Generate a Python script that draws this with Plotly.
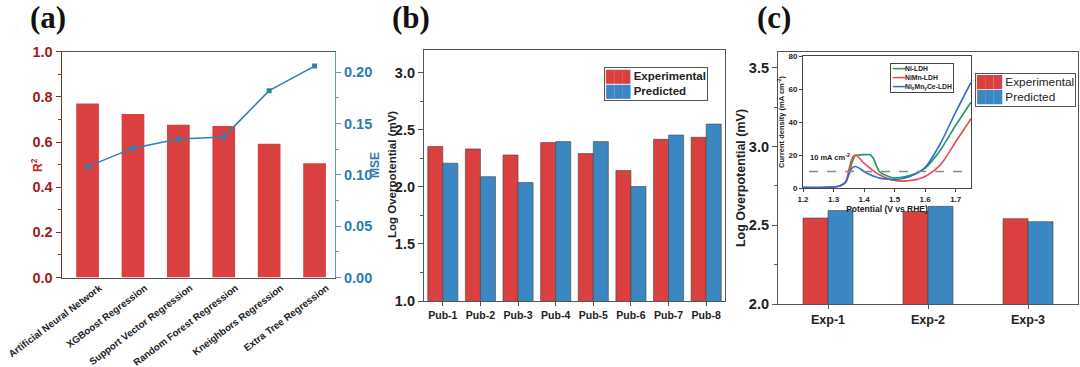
import plotly.graph_objects as go

# ---------------- data ----------------
models = ["Artificial Neural Network", "XGBoost Regression", "Support Vector Regression",
          "Random Forest Regression", "Kneighbors Regression", "Extra Tree Regression"]
r2 = [0.771, 0.724, 0.676, 0.671, 0.592, 0.506]
mse = [0.108, 0.126, 0.135, 0.137, 0.182, 0.206]

pubs = ["Pub-1", "Pub-2", "Pub-3", "Pub-4", "Pub-5", "Pub-6", "Pub-7", "Pub-8"]
pub_exp = [2.354, 2.333, 2.280, 2.389, 2.292, 2.143, 2.417, 2.435]
pub_pred = [2.208, 2.090, 2.038, 2.397, 2.397, 2.003, 2.455, 2.551]

exps = ["Exp-1", "Exp-2", "Exp-3"]
exp_exp = [2.546, 2.587, 2.542]
exp_pred = [2.593, 2.620, 2.523]

potential = [1.20, 1.25, 1.30, 1.32, 1.34, 1.35, 1.36, 1.37, 1.38, 1.40, 1.42, 1.43,
             1.45, 1.48, 1.50, 1.55, 1.60, 1.65, 1.70, 1.75]
j_ni = [0.2, 0.3, 0.6, 1.2, 3.5, 9, 15, 19.5, 20, 20.2, 20.2, 18, 10, 7, 6, 7.5, 12, 23, 38, 52]
j_nimn = [0.2, 0.3, 0.6, 1.2, 4, 11, 17.5, 20, 19, 15, 12, 10.5, 8, 5.5, 4.5, 4.5, 7, 14, 28, 42]
j_nimnce = [0.2, 0.3, 0.6, 1.2, 3.5, 8, 12, 13, 12.5, 10, 8, 7.2, 6, 5.3, 5, 7, 12.5, 27, 46, 64]
ref_potential = [1.22, 1.74]
ref_current = [10, 10]

series_names = ["Experimental", "Predicted"]
ldh_names = ["Ni-LDH", "NiMn-LDH", "Ni<sub>x</sub>Mn<sub>y</sub>Ce-LDH"]

# ---------------- style ----------------
RED = "#d9403f"
BLUE = "#3a87c2"
DARKRED = "#9b1c1c"
AXBLUE = "#2a7ab5"
LDH_COLORS = ["#1e9a5a", "#f0464a", "#2f6fd0"]
FONT = "Liberation Sans"
W, H = 1080, 367


def px(x):
    return x / W


def py(y):
    return (H - y) / H


fig = go.Figure()

# ---- panel (a) ----
fig.add_trace(go.Bar(x=models, y=r2, name="R2", marker=dict(color=RED, line=dict(width=0)), width=0.5,
                     xaxis="x", yaxis="y", showlegend=False))
fig.add_trace(go.Scatter(x=models, y=mse, name="MSE", mode="lines+markers",
                         line=dict(color="#2f7fb5", width=1.5),
                         marker=dict(symbol="square", size=5, color="#2f7fb5"),
                         xaxis="x", yaxis="y2", showlegend=False))

# ---- panel (b) ----
fig.add_trace(go.Bar(x=pubs, y=pub_exp, name=series_names[0], marker=dict(color=RED, line=dict(width=0.6, color="#444")),
                     width=0.4, offset=-0.4, xaxis="x2", yaxis="y3", showlegend=False))
fig.add_trace(go.Bar(x=pubs, y=pub_pred, name=series_names[1], marker=dict(color=BLUE, line=dict(width=0.6, color="#444")),
                     width=0.4, offset=0, xaxis="x2", yaxis="y3", showlegend=False))

# ---- panel (c) ----
fig.add_trace(go.Bar(x=exps, y=exp_exp, name=series_names[0], marker=dict(color=RED, line=dict(width=0.6, color="#444")),
                     width=0.25, offset=-0.25, xaxis="x3", yaxis="y4", showlegend=False))
fig.add_trace(go.Bar(x=exps, y=exp_pred, name=series_names[1], marker=dict(color=BLUE, line=dict(width=0.6, color="#444")),
                     width=0.25, offset=0, xaxis="x3", yaxis="y4", showlegend=False))

# ---- inset ----
for yvals, nm, col in zip([j_ni, j_nimn, j_nimnce], ldh_names, LDH_COLORS):
    fig.add_trace(go.Scatter(x=potential, y=yvals, name=nm, mode="lines",
                             line=dict(color=col, width=1.6, shape="spline", smoothing=0.7),
                             xaxis="x4", yaxis="y5", showlegend=False))
fig.add_trace(go.Scatter(x=ref_potential, y=ref_current, mode="lines", line=dict(color="#888", width=1.5, dash="dash"),
                         xaxis="x4", yaxis="y5", showlegend=False))

dom_a_x = [px(61.7), px(335)]
dom_a_y = [py(277.5), py(51.7)]
dom_b_x = [px(424), px(725)]
dom_b_y = [py(301), py(50)]
dom_c_x = [px(778), px(1078)]
dom_c_y = [py(304), py(52)]
dom_i_x = [px(803), px(971)]
dom_i_y = [py(188), py(56)]

panel_font = dict(family="Liberation Serif", size=31, color="#111", weight="bold")


def bar_legend(colors, names, size, bold, x, y):
    rows = []
    for c, n in zip(colors, names):
        rows.append(f"<span style='color:{c}'>███</span> {n}")
    return dict(text="<br>".join(rows), x=x, y=y, xref="paper", yref="paper", xanchor="left", yanchor="top",
                align="left", showarrow=False, bgcolor="white", bordercolor="#555", borderwidth=1, borderpad=1,
                font=dict(family=FONT, size=size, color="#222", weight="bold" if bold else "normal"))


def line_legend(colors, names, size, x, y):
    rows = []
    for c, n in zip(colors, names):
        rows.append(f"<span style='color:{c}'>━━━</span>{n}")
    return dict(text="<br>".join(rows), x=x, y=y, xref="paper", yref="paper", xanchor="left", yanchor="top",
                align="left", showarrow=False, bgcolor="white", bordercolor="#444", borderwidth=1, borderpad=1,
                font=dict(family=FONT, size=size, color="#222", weight="bold"))


fig.update_layout(
    width=W, height=H, autosize=False,
    margin=dict(l=0, r=0, t=0, b=0, pad=0),
    paper_bgcolor="white", plot_bgcolor="white",
    barmode="overlay",
    font=dict(family=FONT),
    showlegend=False,
    xaxis=dict(domain=dom_a_x, anchor="y", range=[-0.57, 5.45], showline=True, linecolor="#555", linewidth=1.2, mirror=True,
               ticks="", tickangle=-37, automargin=False, ticklabelshift=12,
               tickfont=dict(family=FONT, size=9.8, color="#222", weight="bold"), showgrid=False),
    yaxis=dict(domain=dom_a_y, anchor="x", range=[0, 1.0], dtick=0.2, tickformat=".1f", showline=True, automargin=False,
               linecolor="#8b2a2a", linewidth=1.2, ticks="outside", ticklen=5, tickcolor="#8b2a2a",
               minor=dict(ticks="outside", ticklen=3, dtick=0.1, tickcolor="#8b2a2a"),
               tickfont=dict(family=FONT, size=14.5, color=DARKRED, weight="bold"), showgrid=False),
    yaxis2=dict(overlaying="y", anchor="x", side="right", range=[0, 0.22], dtick=0.05, tickformat=".2f", automargin=False,
                showline=True, linecolor="#5a9ccc", linewidth=1.2, ticks="outside", ticklen=5, tickcolor="#5a9ccc",
                minor=dict(ticks="outside", ticklen=3, dtick=0.025, tickcolor="#5a9ccc"),
                tickfont=dict(family=FONT, size=14.5, color=AXBLUE, weight="bold"), showgrid=False),
    xaxis2=dict(domain=dom_b_x, anchor="y3", range=[-0.5, 7.5], showline=True, linecolor="#555", linewidth=1.2, mirror=True,
                ticks="outside", ticklen=4, tickcolor="#555", tickangle=0, automargin=False,
                tickfont=dict(family=FONT, size=10.5, color="#222", weight="bold"), showgrid=False),
    yaxis3=dict(domain=dom_b_y, anchor="x2", range=[1.0, 3.2], dtick=0.5, tickformat=".1f", showline=True, automargin=False,
                linecolor="#555", linewidth=1.2, mirror=True, ticks="outside", ticklen=5, tickcolor="#555",
                minor=dict(ticks="outside", ticklen=3, dtick=0.25, tickcolor="#555"),
                tickfont=dict(family=FONT, size=14.5, color="#222", weight="bold"), showgrid=False, zeroline=False),
    xaxis3=dict(domain=dom_c_x, anchor="y4", range=[-0.5, 2.5], showline=True, linecolor="#555", linewidth=1.2, mirror=True,
                ticks="outside", ticklen=4, tickcolor="#555", tickangle=0, automargin=False,
                tickfont=dict(family=FONT, size=12.5, color="#222", weight="bold"), showgrid=False),
    yaxis4=dict(domain=dom_c_y, anchor="x3", range=[2.0, 3.6], dtick=0.5, tickformat=".1f", showline=True, automargin=False,
                linecolor="#555", linewidth=1.2, mirror=True, ticks="outside", ticklen=5, tickcolor="#555",
                minor=dict(ticks="outside", ticklen=3, dtick=0.25, tickcolor="#555"),
                tickfont=dict(family=FONT, size=14.5, color="#222", weight="bold"), showgrid=False, zeroline=False,
                title=dict(text="Log Overpotential (mV)", font=dict(family=FONT, size=12.5, color="#222", weight="bold"), standoff=0)),
    xaxis4=dict(domain=dom_i_x, anchor="y5", range=[1.2, 1.75], dtick=0.1, tickformat=".1f", showline=True, automargin=False,
                linecolor="#444", linewidth=1, mirror=True, ticks="outside", ticklen=3, tickcolor="#444", tickangle=0,
                tickfont=dict(family=FONT, size=8, color="#222", weight="bold"), showgrid=False, zeroline=False,
                title=dict(text="Potential (V vs RHE)", font=dict(family=FONT, size=8.5, color="#222", weight="bold"), standoff=2)),
    yaxis5=dict(domain=dom_i_y, anchor="x4", range=[0, 80], dtick=20, showline=True, automargin=False,
                linecolor="#444", linewidth=1, mirror=True, ticks="outside", ticklen=3, tickcolor="#444",
                tickfont=dict(family=FONT, size=8, color="#222", weight="bold"), showgrid=False, zeroline=False,
                title=dict(text="Current density (mA cm<sup>-2</sup>)", font=dict(family=FONT, size=7.5, color="#222", weight="bold"), standoff=2)),
    annotations=[
        dict(text="(a)", x=px(48), y=py(18), xref="paper", yref="paper", xanchor="center", yanchor="middle",
             showarrow=False, font=panel_font),
        dict(text="(b)", x=px(411), y=py(18), xref="paper", yref="paper", xanchor="center", yanchor="middle",
             showarrow=False, font=panel_font),
        dict(text="(c)", x=px(774), y=py(18), xref="paper", yref="paper", xanchor="center", yanchor="middle",
             showarrow=False, font=panel_font),
        dict(text="R<sup>2</sup>", x=px(37), y=py(165), xref="paper", yref="paper", xanchor="center", yanchor="middle",
             textangle=-90, showarrow=False, font=dict(family=FONT, size=12, color="#c0282b", weight="bold")),
        dict(text="MSE", x=px(375), y=py(165), xref="paper", yref="paper", xanchor="center", yanchor="middle",
             textangle=-90, showarrow=False, font=dict(family=FONT, size=12, color=AXBLUE, weight="bold")),
        dict(text="Log Overpotential (mV)", x=px(392), y=py(175), xref="paper", yref="paper", xanchor="center",
             yanchor="middle", textangle=-90, showarrow=False,
             font=dict(family=FONT, size=11.5, color="#222", weight="bold")),
        dict(text="10 mA cm<sup>-2</sup>", x=1.215, y=19, xref="x4", yref="y5", xanchor="left", yanchor="middle",
             showarrow=False, font=dict(family=FONT, size=7.5, color="#222", weight="bold")),
        bar_legend([RED, BLUE], series_names, 11.5, True, px(604), py(67)),
        bar_legend([RED, BLUE], series_names, 11.8, False, px(975), py(73)),
        line_legend(LDH_COLORS, ldh_names, 6.8, px(890), py(63)),
    ],
)

fig.write_html("out.html", config={"displayModeBar": False},
               post_script="document.body.style.margin='0';document.body.style.overflow='hidden';")
